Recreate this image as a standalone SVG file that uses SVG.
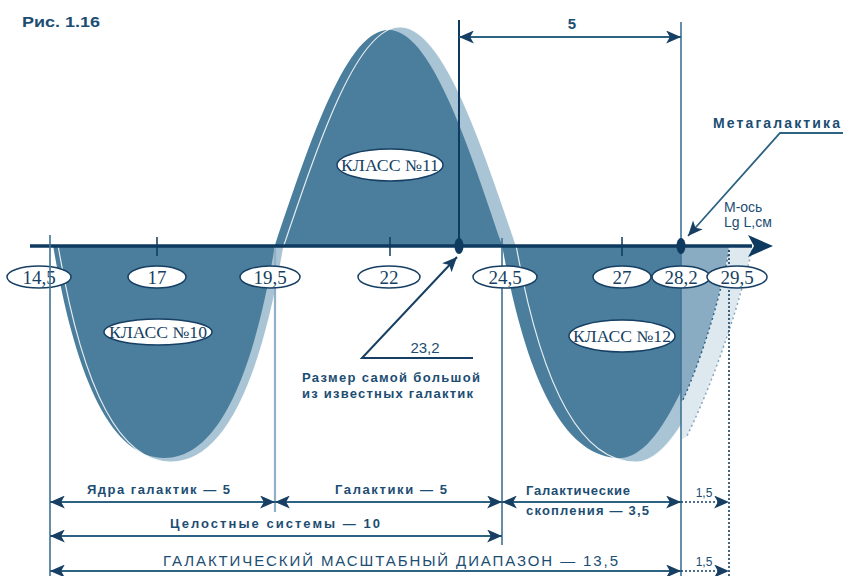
<svg xmlns="http://www.w3.org/2000/svg" width="843" height="576" viewBox="0 0 843 576">
  <style>
    .lbl { font-family: "Liberation Sans", Arial, sans-serif; font-weight: bold; fill: #1c4d72; }
    .reg { font-family: "Liberation Sans", Arial, sans-serif; font-weight: normal; fill: #1c4d72; }
    .num { font-family: "Liberation Serif", "Times New Roman", serif; font-size: 19px; fill: #163f63; text-anchor: middle; }
    .cls { font-family: "Liberation Serif", "Times New Roman", serif; font-size: 16px; fill: #163f63; text-anchor: middle; }
    .oval { fill: #ffffff; stroke: #163f63; stroke-width: 1.5; }
    .dim { stroke: #2d6283; stroke-width: 2; fill: none; }
    .dot { stroke: #163f63; stroke-width: 1.6; stroke-dasharray: 2 2; fill: none; }
    .vline { stroke: #3e7394; stroke-width: 1.6; fill: none; }
  </style>
  <defs>
    <marker id="ah" viewBox="0 0 16 14" refX="16" refY="7" markerWidth="16" markerHeight="13" markerUnits="userSpaceOnUse" orient="auto-start-reverse">
      <path d="M0,0 L16,7 L0,14 L4,7 Z" fill="#163f63"/>
    </marker>
    <clipPath id="leftOf282">
      <rect x="0" y="0" width="681" height="576"/>
    </clipPath>
  </defs>

  <rect width="843" height="576" fill="#ffffff"/>

  <!-- wave bands -->
  <g id="wave" clip-path="url(#leftOf282)">
    <!-- lighter, slightly shifted wave -->
    <path fill="#a9c4d4" d="M58,245 C80.6,379.5 116.8,462 171,462 C225.2,462 261.4,379.5 284,245
      C321.8,133.3 358,27 400,27 C442,27 478.2,133.3 516,245
      C540,379.5 578.4,462 636,462 C679.4,462 716.9,356.2 756,245 Z"/>
    <!-- main wave -->
    <path fill="#4a7e9c" d="M53,245 C75.2,377.1 110.7,458 164.5,458 C217.8,458 253.3,377.1 275,245
      C312,134.9 347.4,30 388.5,30 C429.6,30 465,134.9 502,245
      C525.6,377.1 563.4,458 620,458 C662.7,458 699.5,354.1 738,245 Z"/>
    <!-- thin edge of the shifted wave -->
    <path fill="none" stroke="#ffffff" stroke-width="1.2" opacity="0.85" d="M58,245 C80.6,379.5 116.8,462 171,462 C225.2,462 261.4,379.5 284,245
      C321.8,133.3 358,27 400,27 C442,27 478.2,133.3 516,245
      C540,379.5 578.4,462 636,462 C679.4,462 716.9,356.2 756,245"/>
  </g>

  <!-- extrapolated part beyond 28,2 -->
  <g id="extrapolation">
    <path fill="#dde8ef" d="M729,247 L752,247 C740,300 718,372 687,436 L681,440 L681,400 L683,400 C705,350 722,290 729,247 Z"/>
    <path fill="#8aacc2" d="M681,247 L729,247 C722,290 705,350 683,400 L681,402 Z"/>
    <path fill="none" stroke="#2d5f80" stroke-width="1.4" stroke-dasharray="2 3" d="M729,250 C722,290 705,350 683,400"/>
    <path fill="none" stroke="#7fa3ba" stroke-width="1.4" stroke-dasharray="2 3" d="M752,250 C740,300 718,372 687,436"/>
  </g>

  <!-- guide lines -->
  <g id="guides">
    <line x1="275" y1="245" x2="275" y2="512" stroke="#8fb0c5" stroke-width="2.2"/>
    <line class="vline" x1="502" y1="238" x2="502" y2="545"/>
    <line class="vline" x1="681" y1="22" x2="681" y2="576" stroke-width="2"/>
    <line x1="459" y1="20" x2="459" y2="246" stroke="#0d3a5e" stroke-width="2"/>
    <line class="dot" x1="729" y1="250" x2="729" y2="576" stroke-width="1.4"/>
  </g>

  <!-- axis -->
  <g id="axis">
    <line x1="30" y1="246" x2="752" y2="246" stroke="#0d3a5e" stroke-width="3.5"/>
    <polygon points="773,246 748,235 754,246 748,257" fill="#0d3a5e"/>
    <line x1="157" y1="237" x2="157" y2="256" stroke="#0d3a5e" stroke-width="1.5"/>
    <line x1="390" y1="237" x2="390" y2="256" stroke="#0d3a5e" stroke-width="1.5"/>
    <line x1="622" y1="237" x2="622" y2="256" stroke="#0d3a5e" stroke-width="1.5"/>
    <ellipse cx="459" cy="246" rx="4.5" ry="8" fill="#0d3a5e"/>
    <ellipse cx="681" cy="246" rx="4.5" ry="8" fill="#0d3a5e"/>
  </g>

  <!-- axis values -->
  <g id="tick-14-5"><ellipse class="oval" cx="39" cy="277" rx="32" ry="11"/><text class="num" x="39" y="284">14,5</text></g>
  <g id="tick-17"><ellipse class="oval" cx="157" cy="277" rx="29" ry="11"/><text class="num" x="157" y="284">17</text></g>
  <g id="tick-19-5"><ellipse class="oval" cx="270" cy="277" rx="30" ry="11"/><text class="num" x="270" y="284">19,5</text></g>
  <g id="tick-22"><ellipse class="oval" cx="389" cy="277" rx="31" ry="11"/><text class="num" x="389" y="284">22</text></g>
  <g id="tick-24-5"><ellipse class="oval" cx="505" cy="277" rx="32" ry="11"/><text class="num" x="505" y="284">24,5</text></g>
  <g id="tick-27"><ellipse class="oval" cx="622" cy="277" rx="29" ry="11"/><text class="num" x="622" y="284">27</text></g>
  <g id="tick-28-2"><ellipse class="oval" cx="681" cy="277" rx="29" ry="11"/><text class="num" x="681" y="284">28,2</text></g>
  <g id="tick-29-5"><ellipse class="oval" cx="737" cy="277" rx="30" ry="11"/><text class="num" x="737" y="284">29,5</text></g>

  <!-- 14,5 boundary line runs over its value -->
  <line class="vline" x1="50" y1="235" x2="50" y2="576"/>

  <!-- class labels -->
  <g id="class-10"><ellipse class="oval" cx="158" cy="332" rx="54" ry="13"/><text class="cls" x="158" y="338" textLength="98" lengthAdjust="spacingAndGlyphs">КЛАСС №10</text></g>
  <g id="class-11"><ellipse class="oval" cx="390" cy="165" rx="53" ry="16"/><text class="cls" x="390" y="171" textLength="98" lengthAdjust="spacingAndGlyphs">КЛАСС №11</text></g>
  <g id="class-12"><ellipse class="oval" cx="622" cy="336" rx="53" ry="16"/><text class="cls" x="622" y="342" textLength="98" lengthAdjust="spacingAndGlyphs">КЛАСС №12</text></g>

  <!-- annotations and dimension lines -->
  <g id="connectors">
    <line class="dim" x1="459" y1="37" x2="681" y2="37" marker-start="url(#ah)" marker-end="url(#ah)"/>
    <polyline fill="none" stroke="#163f63" stroke-width="2" points="473,358 362,358 457,257" marker-end="url(#ah)"/>
    <polyline fill="none" stroke="#2d6283" stroke-width="1.8" points="843,133 780,133 688,236" marker-end="url(#ah)"/>

    <line class="dim" x1="50" y1="502" x2="275" y2="502" marker-start="url(#ah)" marker-end="url(#ah)"/>
    <line class="dim" x1="275" y1="502" x2="502" y2="502" marker-start="url(#ah)" marker-end="url(#ah)"/>
    <line class="dim" x1="502" y1="502" x2="681" y2="502" marker-start="url(#ah)" marker-end="url(#ah)"/>
    <line class="dot" x1="681" y1="502" x2="729" y2="502" marker-end="url(#ah)"/>
    <line class="dim" x1="50" y1="536" x2="502" y2="536" marker-start="url(#ah)" marker-end="url(#ah)"/>
    <line class="dim" x1="50" y1="571" x2="681" y2="571" marker-start="url(#ah)" marker-end="url(#ah)"/>
    <line class="dot" x1="681" y1="571" x2="729" y2="571" marker-end="url(#ah)"/>
  </g>

  <g id="texts">
    <text class="lbl" x="22" y="27" font-size="14" textLength="78" lengthAdjust="spacingAndGlyphs">Рис. 1.16</text>
    <text class="lbl" x="572" y="29" font-size="15" text-anchor="middle">5</text>
    <text class="lbl" x="713" y="128" font-size="14" textLength="127" lengthAdjust="spacing">Метагалактика</text>
    <text class="reg" x="724" y="212" font-size="14">М-ось</text>
    <text class="reg" x="724" y="227" font-size="14">Lg L,см</text>
    <text class="reg" x="425" y="353" font-size="15" text-anchor="middle">23,2</text>
    <text class="lbl" x="302" y="382" font-size="13" textLength="178" lengthAdjust="spacing">Размер самой большой</text>
    <text class="lbl" x="302" y="398" font-size="13" textLength="171" lengthAdjust="spacing">из известных галактик</text>

    <text class="lbl" x="87" y="494" font-size="13" textLength="143" lengthAdjust="spacing">Ядра галактик — 5</text>
    <text class="lbl" x="335" y="494" font-size="13" textLength="112" lengthAdjust="spacing">Галактики — 5</text>
    <text class="lbl" x="526" y="495" font-size="13" textLength="104" lengthAdjust="spacing">Галактические</text>
    <text class="lbl" x="526" y="515" font-size="13" textLength="123" lengthAdjust="spacing">скопления — 3,5</text>
    <text class="reg" x="704" y="497" font-size="12" text-anchor="middle">1,5</text>
    <text class="lbl" x="170" y="528" font-size="13" textLength="210" lengthAdjust="spacing">Целостные  системы — 10</text>
    <text class="reg" x="163" y="566" font-size="15" textLength="455" lengthAdjust="spacing">ГАЛАКТИЧЕСКИЙ  МАСШТАБНЫЙ  ДИАПАЗОН — 13,5</text>
    <text class="reg" x="704" y="566" font-size="12" text-anchor="middle">1,5</text>
  </g>
</svg>
